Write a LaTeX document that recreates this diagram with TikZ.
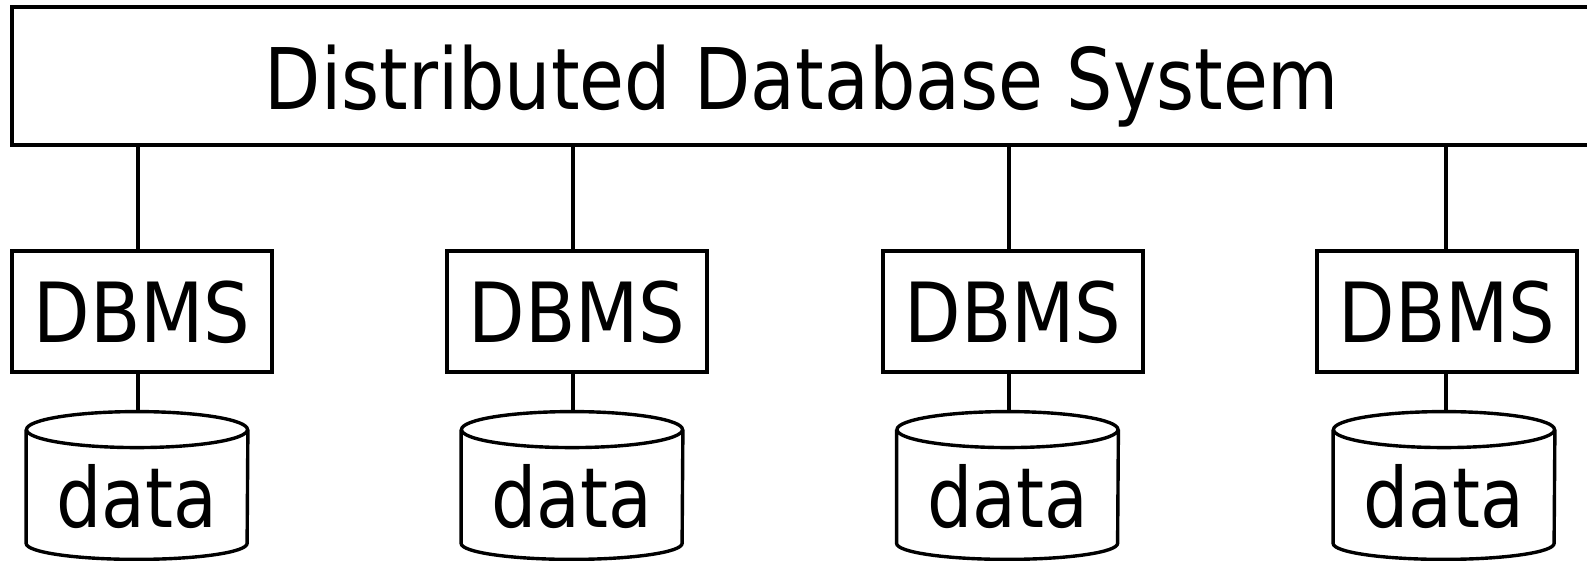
\documentclass[tikz,border=0pt]{standalone}
\usepackage{fontspec}
\setmainfont{DejaVu Sans}[FakeStretch=0.86]
\newfontfamily\boxfont{DejaVu Sans}[FakeStretch=0.885]
\begin{document}
\begin{tikzpicture}[x=0.5pt,y=0.5pt,
  rule/.style={line width=1.7pt},
  sysbox/.style={draw, rule, inner sep=0pt, minimum width=790pt, minimum height=69pt,
    text height=38pt, text depth=4pt, font=\fontsize{42.5pt}{50pt}\selectfont},
  dbmsbox/.style={draw, rule, inner sep=0pt, minimum width=130pt, minimum height=60.5pt,
    text height=34pt, text depth=2.5pt, font=\boxfont\fontsize{41.5pt}{50pt}\selectfont},
  store/.style={inner sep=0pt, minimum width=110.5pt, minimum height=73.5pt,
    text height=44pt, text depth=1.5pt, font=\fontsize{41.5pt}{50pt}\selectfont},
  link/.style={rule}]
\useasboundingbox (0,0) rectangle (1587,561);
\clip (0,0) rectangle (1587,561);

% the shared system layer across the top
\node[sysbox] (sys) at (802,485) {Distributed Database System};

% one column per site: DBMS box over its data store
\foreach \i/\bx/\cx/\lx in {1/142/137/138, 2/577/572/573, 3/1013/1007.5/1009, 4/1447/1444/1446}{
  \coordinate (l\i) at (\lx,0);
  \node[dbmsbox] (d\i) at (\bx,249.5) {DBMS};
  \node[store] (c\i) at (\cx,75.5) {data};
  % cylinder outline of the data store
  \draw[rule] ([yshift=-9pt]c\i.north west) -- ([yshift=8pt]c\i.south west)
    arc[start angle=180, end angle=360, x radius=55.25pt, y radius=8pt]
    -- ([yshift=-9pt]c\i.north east);
  \draw[rule] ([yshift=-9pt]c\i.north) ellipse[x radius=55.25pt, y radius=9pt];
  % connectors
  \draw[link] (sys.south -| l\i) -- (d\i.north -| l\i);
  \draw[link] (d\i.south -| l\i) -- (c\i.north -| l\i);
}
\end{tikzpicture}
\end{document}
